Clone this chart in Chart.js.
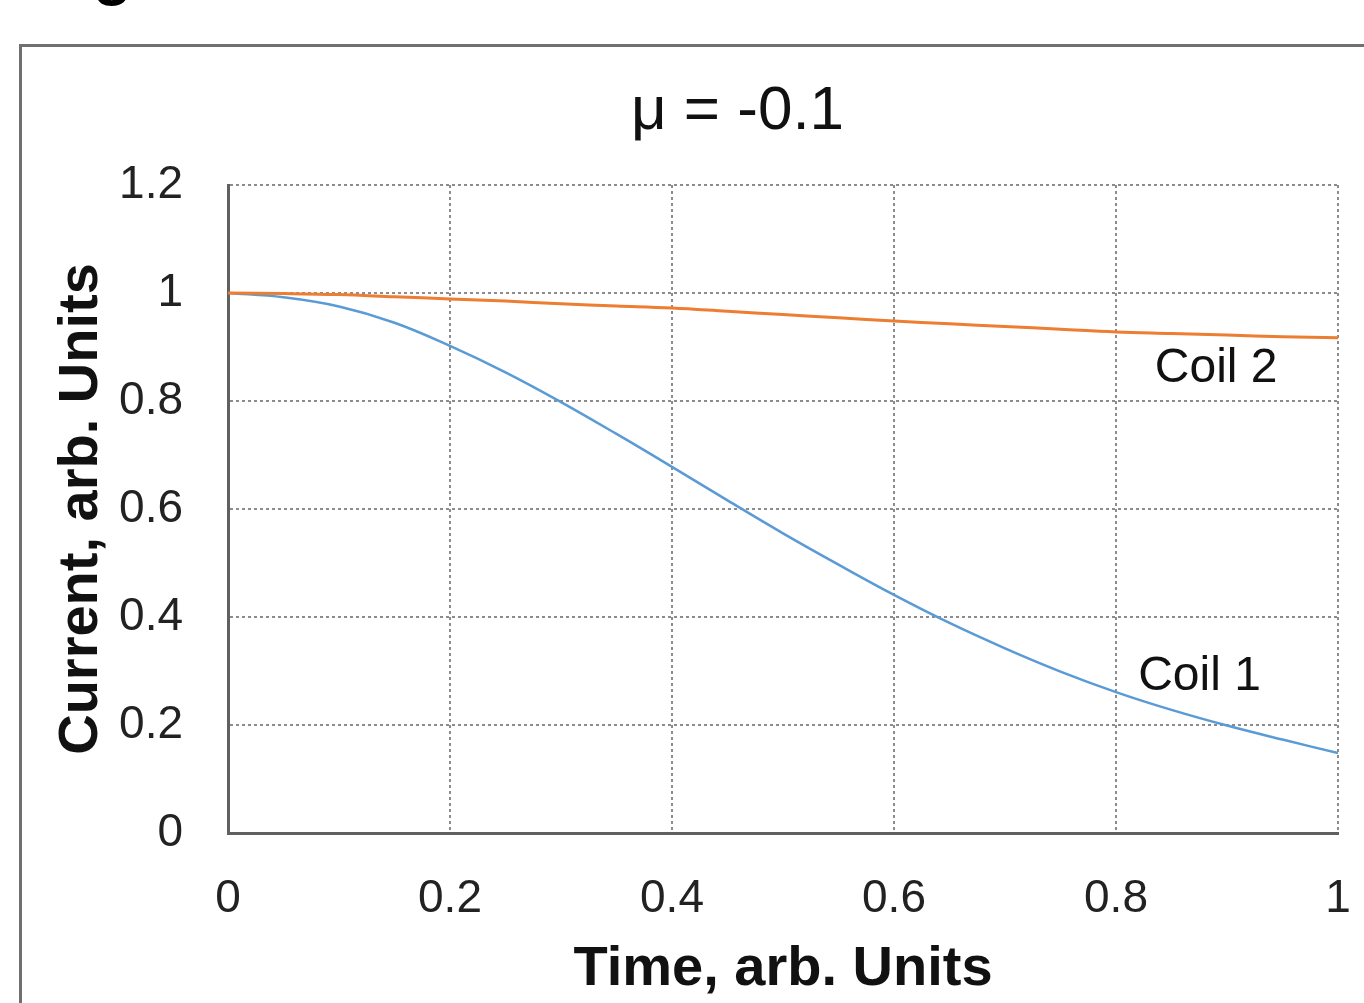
<!DOCTYPE html>
<html>
<head>
<meta charset="utf-8">
<script src="https://cdn.jsdelivr.net/npm/chart.js@4/dist/chart.umd.min.js"></script>
<style>
  html, body { margin: 0; padding: 0; background: #fff; overflow: hidden; }
  #frame {
    position: absolute; left: 19px; top: 44px; width: 1400px; height: 1000px;
    border-left: 3px solid #707070; border-top: 3px solid #707070;
  }
  #fig {
    position: absolute; left: 36px; top: -66px;
    font: bold 64px "Liberation Sans", Arial, sans-serif; color: #000;
  }
  /* canvas runs past the window edge, like the cropped original */
  #wrap { position: absolute; left: 0; top: 0; width: 1474px; height: 1003px; }
</style>
</head>
<body>
<div id="fig">Fig</div>
<div id="frame"></div>
<div id="wrap"><canvas id="chart"></canvas></div>
<script>
// time axis samples, arb. units
const timeValues = [0, 0.05, 0.1, 0.15, 0.2, 0.25, 0.3, 0.35, 0.4, 0.45, 0.5,
                    0.55, 0.6, 0.65, 0.7, 0.75, 0.8, 0.85, 0.9, 0.95, 1.0];
const coil1 = [1.0, 0.992, 0.975, 0.945, 0.902, 0.853, 0.798, 0.739, 0.678, 0.616, 0.555,
               0.497, 0.441, 0.389, 0.342, 0.299, 0.261, 0.228, 0.199, 0.173, 0.148];
const coil2 = [1.0, 0.999, 0.997, 0.993, 0.989, 0.985, 0.980, 0.976, 0.972, 0.966, 0.960,
               0.954, 0.948, 0.943, 0.938, 0.933, 0.928, 0.925, 0.922, 0.919, 0.917];
const xTicks = [0, 0.2, 0.4, 0.6, 0.8, 1];
const yTicks = [0, 0.2, 0.4, 0.6, 0.8, 1, 1.2];
const seriesLabels = [
    { text: 'Coil 2', x: 0.835, y: 0.86 },
    { text: 'Coil 1', x: 0.82, y: 0.29 }
];
// chart title sits off-centre in the original, so it is placed in data units
const chartTitle = { text: 'μ = -0.1', x: 0.459, y: 1.335 };

const fontFamily = "'Liberation Sans', Arial, sans-serif";

function toPoints(ys) {
    return timeValues.map((t, i) => ({ x: t, y: ys[i] }));
}

// title plus "Coil 1" / "Coil 2" next to the curves, positioned by the scales
const textLabels = {
    id: 'textLabels',
    afterDatasetsDraw(chart) {
        const { ctx, scales } = chart;
        ctx.save();
        ctx.fillStyle = '#111';
        ctx.textBaseline = 'middle';

        ctx.font = '62px ' + fontFamily;
        ctx.textAlign = 'center';
        ctx.fillText(chartTitle.text, scales.x.getPixelForValue(chartTitle.x), scales.y.getPixelForValue(chartTitle.y));

        ctx.font = '48px ' + fontFamily;
        ctx.textAlign = 'left';
        seriesLabels.forEach(l => {
            ctx.fillText(l.text, scales.x.getPixelForValue(l.x), scales.y.getPixelForValue(l.y));
        });
        ctx.restore();
    }
};

const gridStyle = { color: '#8c8c8c', lineWidth: 2, drawTicks: false };
const borderStyle = { display: true, color: '#606060', width: 3, dash: [3, 3] };

new Chart(document.getElementById('chart'), {
    type: 'line',
    data: {
        datasets: [
            {
                label: 'Coil 2',
                data: toPoints(coil2),
                borderColor: '#ED7D31',
                borderWidth: 3,
                pointRadius: 0,
                tension: 0.4
            },
            {
                label: 'Coil 1',
                data: toPoints(coil1),
                borderColor: '#5B9BD5',
                borderWidth: 2.5,
                pointRadius: 0,
                tension: 0.4
            }
        ]
    },
    options: {
        responsive: true,
        maintainAspectRatio: false,
        animation: false,
        layout: { padding: { left: 0, right: 136, top: 185, bottom: 0 } },
        plugins: {
            legend: { display: false },
            tooltip: { enabled: false },
            title: { display: false }
        },
        scales: {
            x: {
                type: 'linear',
                min: 0,
                max: 1,
                afterBuildTicks: axis => { axis.ticks = xTicks.map(v => ({ value: v })); },
                afterFit: axis => { axis.height = 170; },
                grid: gridStyle,
                border: borderStyle,
                ticks: {
                    color: '#222',
                    padding: 39,
                    maxRotation: 0,
                    font: { family: fontFamily, size: 46 },
                    callback: v => String(v)
                },
                title: {
                    display: true,
                    text: 'Time, arb. Units',
                    color: '#111',
                    font: { family: fontFamily, size: 56, weight: 'bold' },
                    padding: { top: 0, bottom: 0 }
                }
            },
            y: {
                min: 0,
                max: 1.2,
                afterBuildTicks: axis => { axis.ticks = yTicks.map(v => ({ value: v })); },
                afterFit: axis => { axis.width = 228; },
                grid: gridStyle,
                border: borderStyle,
                ticks: {
                    color: '#222',
                    padding: 45,
                    font: { family: fontFamily, size: 46 },
                    callback: v => String(Math.round(v * 10) / 10)
                },
                title: {
                    display: true,
                    text: 'Current, arb. Units',
                    color: '#111',
                    font: { family: fontFamily, size: 56, weight: 'bold' },
                    padding: { top: 48, bottom: 0 }
                }
            }
        }
    },
    plugins: [textLabels]
});
</script>
</body>
</html>
